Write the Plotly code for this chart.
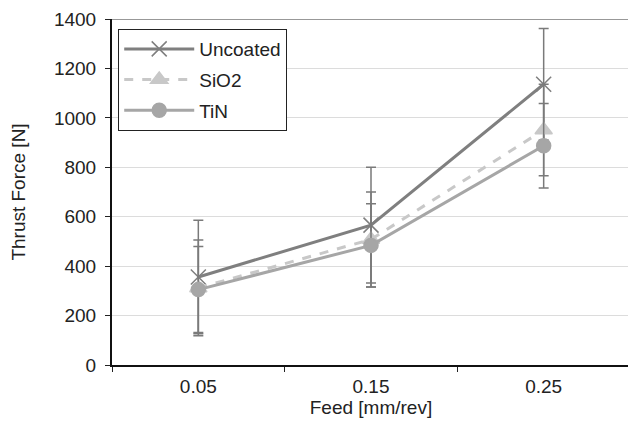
import plotly.graph_objects as go

feeds = ["0.05", "0.15", "0.25"]
uncoated = [356, 566, 1136]
uncoated_err = [230, 234, 226]
sio2 = [312, 508, 951]
sio2_err = [194, 192, 185]
tin = [305, 484, 887]
tin_err = [174, 168, 171]

yticks = [0, 200, 400, 600, 800, 1000, 1200, 1400]

fig = go.Figure()

def add(name, y, err, color, dash, symbol, size, width):
    fig.add_trace(go.Scatter(
        x=feeds, y=y, name=name, mode="lines+markers", legendgroup=name,
        line=dict(color=color, width=width, dash=dash),
        marker=dict(symbol=symbol, size=size, color=color,
                    line=dict(color=color, width=1.5)),
        error_y=dict(type="data", array=err, visible=True,
                     color="#7a7a7a", thickness=1.5, width=5),
    ))

add("Uncoated", uncoated, uncoated_err, "#7f7f7f", "solid", "x-thin", 15, 3)
add("SiO2", sio2, sio2_err, "#c8c8c8", "dash", "triangle-up", 15, 3)
add("TiN", tin, tin_err, "#a6a6a6", "solid", "circle", 14, 3)

fig.add_shape(type="line", xref="paper", yref="y", x0=0, x1=1, y0=1400, y1=1400,
              line=dict(color="#333333", width=1))

FONT = "Liberation Sans, Arial, sans-serif"
FS = 19

fig.update_layout(
    width=628, height=416,
    margin=dict(l=104, r=6, t=11, b=59),
    paper_bgcolor="white", plot_bgcolor="white",
    font=dict(family=FONT, size=FS, color="#222222"),
    legend=dict(x=0.012, y=0.971, xanchor="left", yanchor="top",
                bordercolor="#222222", borderwidth=1, bgcolor="white",
                itemwidth=70,
                font=dict(family=FONT, size=FS, color="#222222"), tracegroupgap=3),
    xaxis=dict(type="category", tickson="boundaries", ticks="outside", ticklen=5,
               tickcolor="#222222", showline=True, linecolor="#111111", linewidth=2,
               showgrid=False, range=[-0.5, 2.5], automargin=False,
               ticklabelstandoff=3,
               tickfont=dict(family=FONT, size=FS, color="#222222"),
               title=dict(text="Feed [mm/rev]", standoff=5,
                          font=dict(family=FONT, size=FS, color="#222222"))),
    yaxis=dict(range=[0, 1400], tickvals=yticks, ticks="outside", ticklen=5,
               tickcolor="#222222", showline=True, linecolor="#111111", linewidth=2,
               showgrid=True, gridcolor="#dcdcdc", gridwidth=1, zeroline=False,
               automargin=False, ticklabelstandoff=5,
               tickfont=dict(family=FONT, size=FS, color="#222222"),
               title=dict(text="Thrust Force [N]", standoff=23,
                          font=dict(family=FONT, size=FS, color="#222222"))),
)

fig.write_html("out.html")
